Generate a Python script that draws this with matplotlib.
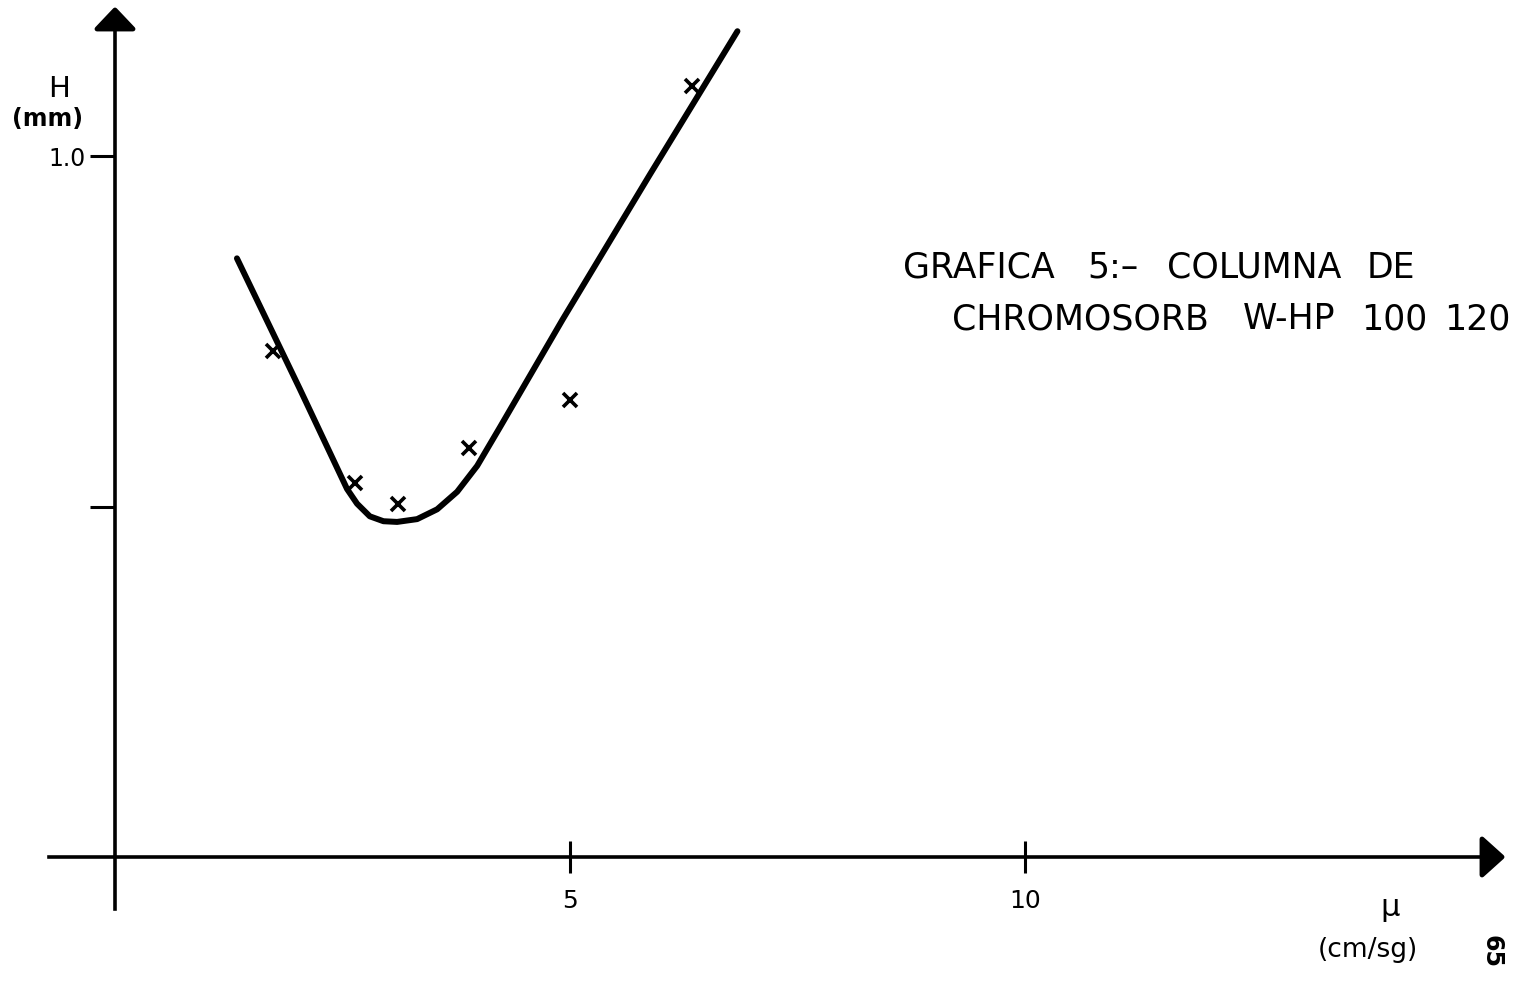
import matplotlib
matplotlib.use("Agg")
import matplotlib.pyplot as plt
from matplotlib.patches import Polygon

# measured data (velocity u in cm/s, plate height H in mm)
pts_u = [1.74, 2.64, 3.11, 3.89, 5.00, 6.34]
pts_h = [0.722, 0.534, 0.504, 0.583, 0.652, 1.100]

curve_u = [1.34, 2.03, 2.55, 2.66, 2.80, 2.95, 3.10, 3.32, 3.54, 3.76, 3.98, 4.23, 4.92, 5.88, 6.84]
curve_h = [0.854, 0.668, 0.525, 0.504, 0.486, 0.479, 0.478, 0.482, 0.496, 0.521, 0.558, 0.613, 0.767, 0.974, 1.178]

x_ticks = [5, 10]
x_tick_labels = ["5", "10"]
y_ticks = [0.5, 1.0]
y_tick_labels = ["", "1.0"]

title_line1 = ["GRAFICA", "5:–", "COLUMNA", "DE"]
title_line2 = ["CHROMOSORB", "W-HP", "100", "120"]

W, H = 1514, 995
fig = plt.figure(figsize=(W / 100, H / 100), dpi=100)
ax = fig.add_axes([0, 0, 1, 1])
px_x, x0 = 91.0, 115.0
px_y, y0 = 701.0, 858.0
ax.set_xlim(-x0 / px_x, (W - x0) / px_x)
ax.set_ylim(-(H - y0) / px_y, y0 / px_y)

def px2d(px, py):
    return ((px - x0) / px_x, (y0 - py) / px_y)

# axes as spines through origin
for s in ["top", "right"]:
    ax.spines[s].set_visible(False)
ax.spines["left"].set_position(("data", 0))
ax.spines["bottom"].set_position(("data", 0))
ax.spines["left"].set_bounds(-0.074, 1.18)
ax.spines["bottom"].set_bounds(-0.73, 15.05)
for s in ["left", "bottom"]:
    ax.spines[s].set_linewidth(2.6)
    ax.spines[s].set_color("black")

ax.set_xticks(x_ticks)
ax.set_xticklabels(x_tick_labels)
ax.set_yticks(y_ticks)
ax.set_yticklabels(y_tick_labels)
ax.tick_params(axis="x", direction="inout", length=23, width=2.2, pad=11, labelsize=18)
ax.tick_params(axis="y", direction="out", length=18, width=2.2, pad=3, labelsize=17)

# arrowheads
ax.add_patch(Polygon([px2d(115, 11), px2d(97, 30), px2d(133, 30)], closed=True,
                     facecolor="black", edgecolor="black", lw=3.5, joinstyle="round",
                     clip_on=False))
ax.add_patch(Polygon([px2d(1502, 858), px2d(1482, 840), px2d(1482, 876)], closed=True,
                     facecolor="black", edgecolor="black", lw=3.5, joinstyle="round",
                     clip_on=False))

# curve and points
ax.plot(curve_u, curve_h, color="black", lw=4.3, solid_capstyle="round",
        solid_joinstyle="round")
ax.plot(pts_u, pts_h, linestyle="none", marker="x", ms=10, mew=2.6, color="black")

# labels
ax.text(*px2d(59, 89), "H", fontsize=21, ha="center", va="center")
ax.text(*px2d(47, 119), "(mm)", fontsize=17, fontweight="bold", ha="center", va="center")
ax.text(*px2d(1390, 908), "μ", fontsize=22, ha="center", va="center")
ax.text(*px2d(1368, 950), "(cm/sg)", fontsize=19, ha="center", va="center")
ax.text(*px2d(1492, 952), "65", fontsize=17, fontweight="bold", ha="center",
        va="center", rotation=-90)

# title, word by word (wide lettering-guide spacing), common baselines
for word, px in zip(title_line1, [979, 1113, 1254, 1391]):
    ax.text(*px2d(px, 278), word, fontsize=25, ha="center", va="baseline")
for word, px in zip(title_line2[:3], [1080, 1289, 1394]):
    ax.text(*px2d(px, 329), word, fontsize=25, ha="center", va="baseline")
ax.text(*px2d(1511, 329), title_line2[3], fontsize=25, ha="right", va="baseline")

fig.savefig("out.png", dpi=100)
